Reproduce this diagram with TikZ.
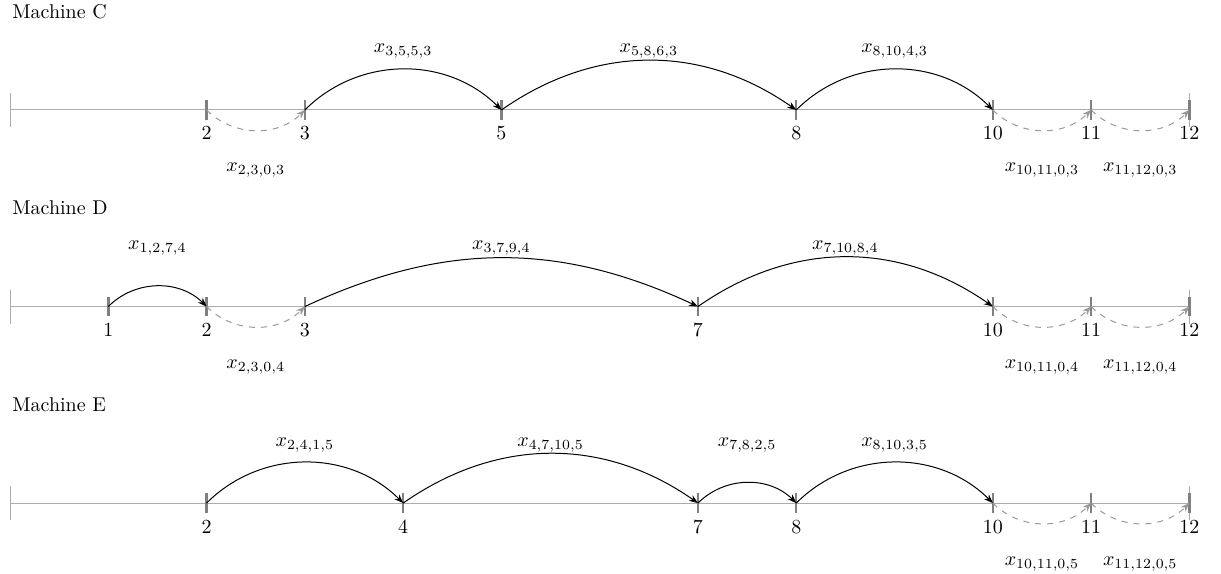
\documentclass[tikz,border=0pt]{standalone}
\usepackage{amsmath}
\usepackage{tikz}
\usetikzlibrary{arrows.meta}
\tikzset{
  axisline/.style={line width=.5pt,gray!65},
  endbar/.style={line width=.5pt,gray!65},
  tickmark/.style={line width=1.2pt,gray},
  job/.style={line width=.5pt,black,-{Stealth[length=4.5pt]}},
  idle/.style={line width=.5pt,gray!80,dashed,-{Stealth[length=4.5pt]}},
  lab/.style={anchor=base,inner sep=0pt},
  ticklab/.style={anchor=base,inner sep=0pt},
  mach/.style={anchor=base west,inner sep=0pt}
}

\begin{document}
\begin{tikzpicture}[x=1.73cm,y=1.73cm]
  \useasboundingbox (-0.102,-4.721) rectangle (12.322,1.119);

  % machine C
  \node[mach] (mC) at (0.02,0.934) {Machine C};
  \coordinate (C0) at (0,0);
  \coordinate (Cend) at (12,0);
  \draw[axisline] (C0) -- (Cend);
  \draw[endbar] (0,-.173) -- (0,.173);
  \draw[endbar] (12,-.173) -- (12,.173);
  \foreach \t in {2,3,5,8,10,11,12} {
    \coordinate (C\t) at (\t,0);
    \draw[tickmark] (\t,-.1) -- (\t,.1);
    \node[ticklab] (lC\t) at (\t,-.305) {$\t$};
  }
  \draw[idle] (C2) to[bend right=45] (C3);
  \draw[job] (C3) to[bend left=45] (C5);
  \draw[job] (C5) to[bend left=35] (C8);
  \draw[job] (C8) to[bend left=45] (C10);
  \draw[idle] (C10) to[bend right=45] (C11);
  \draw[idle] (C11) to[bend right=45] (C12);
  \node[lab] (xC35) at (4,.58) {$x_{3,5,5,3}$};
  \node[lab] (xC58) at (6.5,.58) {$x_{5,8,6,3}$};
  \node[lab] (xC810) at (9,.58) {$x_{8,10,4,3}$};
  \node[lab] (xC23) at (2.5,-.63) {$x_{2,3,0,3}$};
  \node[lab] (xC1011) at (10.5,-.63) {$x_{10,11,0,3}$};
  \node[lab] (xC1112) at (11.5,-.63) {$x_{11,12,0,3}$};

  % machine D
  \node[mach] (mD) at (0.02,-1.066) {Machine D};
  \coordinate (D0) at (0,-2);
  \coordinate (Dend) at (12,-2);
  \draw[axisline] (D0) -- (Dend);
  \draw[endbar] (0,-2.173) -- (0,-1.827);
  \draw[endbar] (12,-2.173) -- (12,-1.827);
  \foreach \t in {1,2,3,7,10,11,12} {
    \coordinate (D\t) at (\t,-2);
    \draw[tickmark] (\t,-2.1) -- (\t,-1.9);
    \node[ticklab] (lD\t) at (\t,-2.305) {$\t$};
  }
  \draw[job] (D1) to[bend left=45] (D2);
  \draw[idle] (D2) to[bend right=45] (D3);
  \draw[job] (D3) to[bend left=25] (D7);
  \draw[job] (D7) to[bend left=35] (D10);
  \draw[idle] (D10) to[bend right=45] (D11);
  \draw[idle] (D11) to[bend right=45] (D12);
  \node[lab] (xD12) at (1.5,-1.42) {$x_{1,2,7,4}$};
  \node[lab] (xD37) at (5,-1.42) {$x_{3,7,9,4}$};
  \node[lab] (xD710) at (8.5,-1.42) {$x_{7,10,8,4}$};
  \node[lab] (xD23) at (2.5,-2.63) {$x_{2,3,0,4}$};
  \node[lab] (xD1011) at (10.5,-2.63) {$x_{10,11,0,4}$};
  \node[lab] (xD1112) at (11.5,-2.63) {$x_{11,12,0,4}$};

  % machine E
  \node[mach] (mE) at (0.02,-3.066) {Machine E};
  \coordinate (E0) at (0,-4);
  \coordinate (Eend) at (12,-4);
  \draw[axisline] (E0) -- (Eend);
  \draw[endbar] (0,-4.173) -- (0,-3.827);
  \draw[endbar] (12,-4.173) -- (12,-3.827);
  \foreach \t in {2,4,7,8,10,11,12} {
    \coordinate (E\t) at (\t,-4);
    \draw[tickmark] (\t,-4.1) -- (\t,-3.9);
    \node[ticklab] (lE\t) at (\t,-4.305) {$\t$};
  }
  \draw[job] (E2) to[bend left=45] (E4);
  \draw[job] (E4) to[bend left=35] (E7);
  \draw[job] (E7) to[bend left=45] (E8);
  \draw[job] (E8) to[bend left=45] (E10);
  \draw[idle] (E10) to[bend right=45] (E11);
  \draw[idle] (E11) to[bend right=45] (E12);
  \node[lab] (xE24) at (3,-3.42) {$x_{2,4,1,5}$};
  \node[lab] (xE47) at (5.5,-3.42) {$x_{4,7,10,5}$};
  \node[lab] (xE78) at (7.5,-3.42) {$x_{7,8,2,5}$};
  \node[lab] (xE810) at (9,-3.42) {$x_{8,10,3,5}$};
  \node[lab] (xE1011) at (10.5,-4.63) {$x_{10,11,0,5}$};
  \node[lab] (xE1112) at (11.5,-4.63) {$x_{11,12,0,5}$};
\end{tikzpicture}
\end{document}
